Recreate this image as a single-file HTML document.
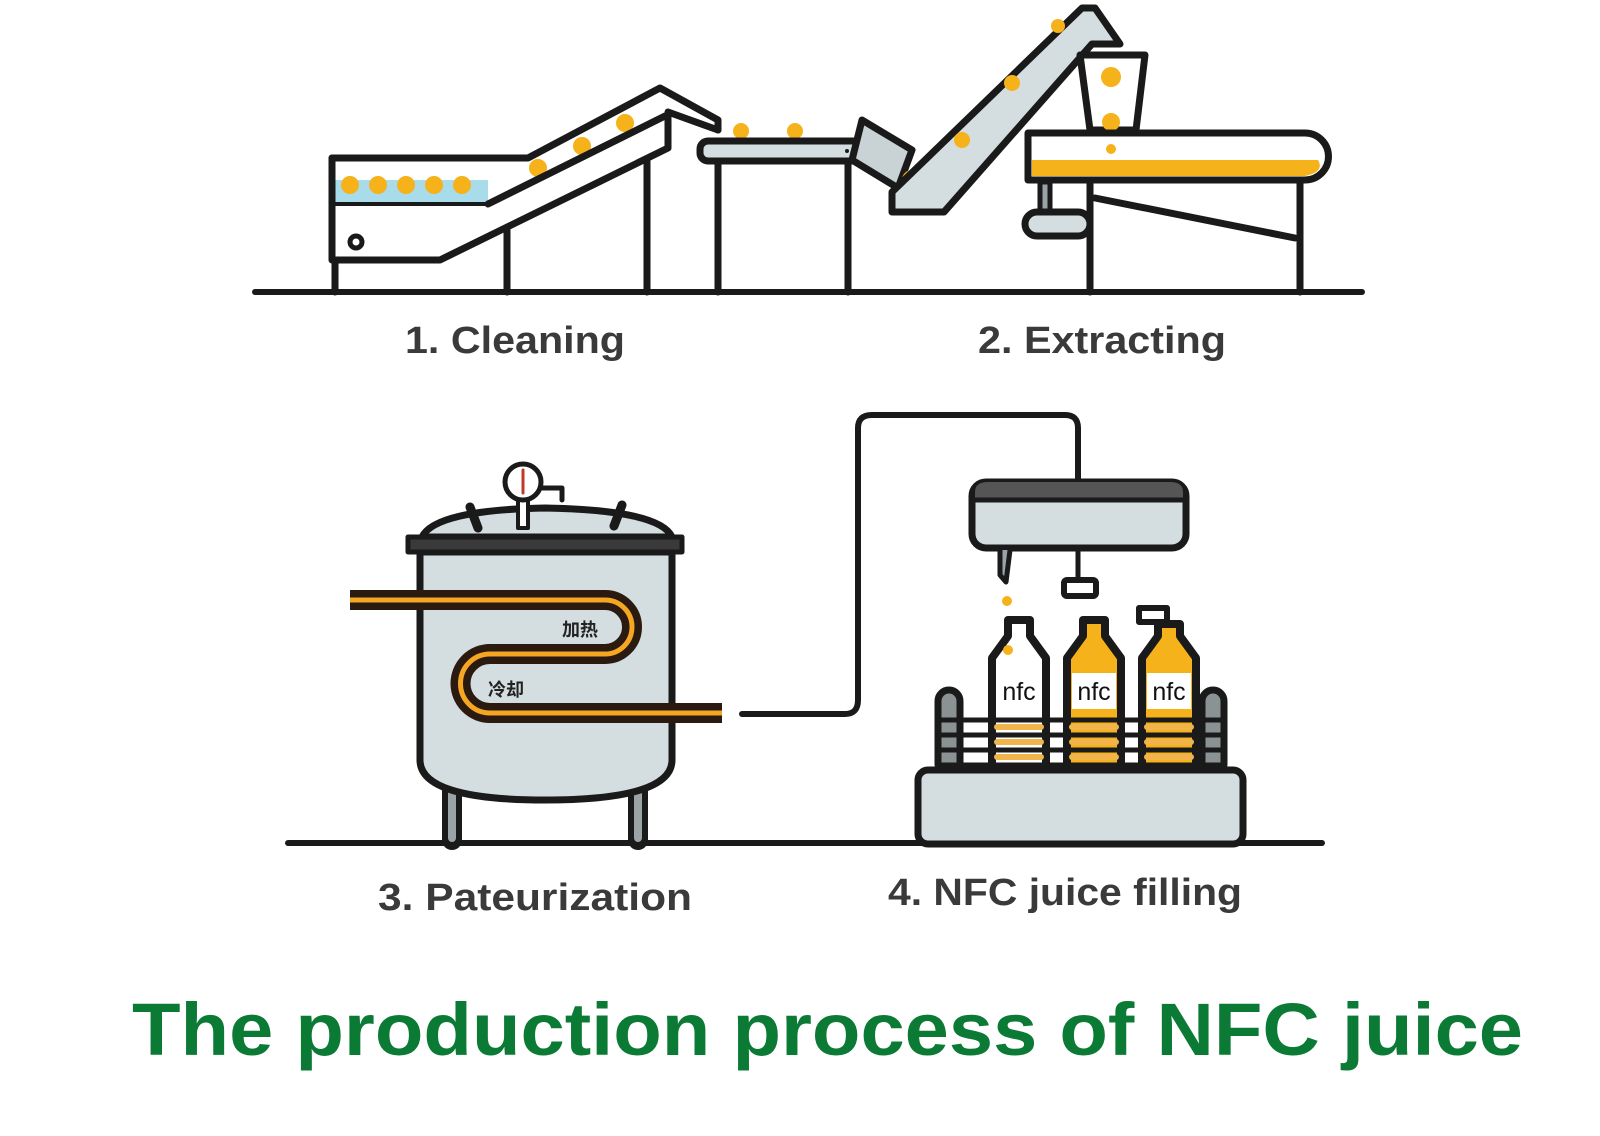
<!DOCTYPE html>
<html><head><meta charset="utf-8"><style>
html,body{margin:0;padding:0;background:#fff;}
svg{display:block;}
</style></head><body>
<svg width="1600" height="1136" viewBox="0 0 1600 1136" xmlns="http://www.w3.org/2000/svg">
<g stroke="#1a1a1a" stroke-width="7" stroke-linejoin="round" stroke-linecap="round">
<line x1="255" y1="292" x2="1362" y2="292" stroke-width="6"/>
<line x1="288" y1="843" x2="1322" y2="843" stroke-width="6"/>

<line x1="335" y1="262" x2="335" y2="292"/>
<line x1="507" y1="230" x2="507" y2="292"/>
<line x1="647" y1="160" x2="647" y2="292"/>
<rect x="334" y="180" width="154" height="22" fill="#a9dcea" stroke="none"/>
<g fill="#f5b21a" stroke="none">
<circle cx="350" cy="185" r="9"/><circle cx="378" cy="185" r="9"/><circle cx="406" cy="185" r="9"/><circle cx="434" cy="185" r="9"/><circle cx="462" cy="185" r="9"/>
<circle cx="538" cy="168" r="9"/><circle cx="582" cy="146" r="9"/><circle cx="625" cy="123" r="9"/>
<circle cx="741" cy="131" r="8"/><circle cx="795" cy="131" r="8"/>
</g>
<path d="M332 158 L528 158 L660 88 L718 120 L718 130" fill="none"/>
<path d="M332 158 L332 260 L440 260 L668 148 L668 112 L718 130" fill="none"/>
<line x1="488" y1="204" x2="665" y2="116"/>
<line x1="334" y1="204" x2="488" y2="204" stroke-width="4"/>
<circle cx="356" cy="242" r="6" fill="none" stroke-width="5"/>

<line x1="718" y1="160" x2="718" y2="292"/>
<line x1="848" y1="160" x2="848" y2="292"/>
<rect x="700" y="141" width="165" height="20" rx="8" fill="#d4dde0"/>
<circle cx="847" cy="151" r="2" fill="#1a1a1a" stroke="none"/>
<path d="M862 120 L912 150 L898 188 L852 160 Z" fill="#c9d2d4"/>

<circle cx="912" cy="180" r="10" fill="#f5b21a" stroke="none"/>
<path d="M892 192 L892 212 L944 212 L1092 44 L1120 44 L1095 8 L1082 8 Z" fill="#d4dde0"/>
<g fill="#f5b21a" stroke="none"><circle cx="962" cy="140" r="8"/><circle cx="1012" cy="83" r="8"/><circle cx="1058" cy="26" r="7"/></g>

<line x1="1090" y1="182" x2="1090" y2="292"/>
<line x1="1300" y1="182" x2="1300" y2="292"/>
<line x1="1095" y1="198" x2="1295" y2="238"/>
<rect x="1040" y="182" width="10" height="35" fill="#9aa3a6" stroke-width="5"/>
<rect x="1025" y="212" width="65" height="24" rx="12" fill="#d4dde0"/>
<path d="M1080 55 L1145 55 L1136 130 L1090 130 Z" fill="#fff"/>
<g fill="#f5b21a" stroke="none"><circle cx="1111" cy="77" r="10"/><circle cx="1111" cy="122" r="9"/></g>
<path d="M1028 133 L1305 133 A23 23 0 0 1 1305 180 L1028 180 Z" fill="#fff"/>
<path d="M1032 160 L1318 160 Q1325 172 1305 176 L1032 176 Z" fill="#f5b21a" stroke="none"/>
<circle cx="1111" cy="149" r="5" fill="#f5b21a" stroke="none"/>

<line x1="452" y1="790" x2="452" y2="840" stroke="#1a1a1a" stroke-width="20"/>
<line x1="452" y1="790" x2="452" y2="838" stroke="#9aa3a6" stroke-width="8"/>
<line x1="638" y1="790" x2="638" y2="840" stroke="#1a1a1a" stroke-width="20"/>
<line x1="638" y1="790" x2="638" y2="838" stroke="#9aa3a6" stroke-width="8"/>
<path d="M420 552 L420 760 Q420 800 545 800 Q672 800 672 760 L672 552 Z" fill="#d4dde0"/>
<path d="M422 537 Q435 510 545 508 Q660 510 672 537 Z" fill="#d4dde0"/>
<rect x="408" y="537" width="274" height="15" fill="#3a3a3a" stroke-width="5"/>
<line x1="470" y1="507" x2="478" y2="528" stroke-width="9"/>
<line x1="622" y1="505" x2="614" y2="526" stroke-width="9"/>
<rect x="518" y="500" width="10" height="28" fill="#fff" stroke-width="4"/>
<path d="M540 488 L562 488 L562 500" fill="none" stroke-width="5"/>
<circle cx="523" cy="482" r="18" fill="#fff" stroke-width="5"/>
<line x1="523" y1="470" x2="523" y2="493" stroke="#c0392b" stroke-width="3"/>

<path d="M350 600 L605 600 A27 27 0 0 1 605 654 L490 654 A29.5 29.5 0 0 0 490 713 L722 713" fill="none" stroke="#2b1a10" stroke-width="20" stroke-linecap="butt"/>
<path d="M350 600 L605 600 A27 27 0 0 1 605 654 L490 654 A29.5 29.5 0 0 0 490 713 L722 713" fill="none" stroke="#f5a623" stroke-width="5" stroke-linecap="butt"/>

<path d="M742 714 L845 714 Q858 714 858 700 L858 428 Q858 415 872 415 L1065 415 Q1078 415 1078 428 L1078 482" fill="none" stroke-width="6"/>

<rect x="972" y="482" width="214" height="66" rx="14" fill="#d4dde0"/>
<path d="M975 500 L975 492 Q975 482 988 482 L1170 482 Q1183 482 1183 492 L1183 500 Z" fill="#555" stroke="none"/>
<line x1="975" y1="500" x2="1183" y2="500" stroke-width="5"/>
<path d="M1000 550 L1000 575 L1006 582 L1010 550" fill="#9aa3a6" stroke-width="5"/>
<line x1="1078" y1="550" x2="1078" y2="580" stroke-width="5"/>
<rect x="1064" y="580" width="32" height="16" rx="3" fill="#fff" stroke-width="6"/>
<circle cx="1007" cy="601" r="5" fill="#f5b21a" stroke="none"/>

<rect x="938" y="690" width="22" height="85" rx="11" fill="#8a9294"/>
<rect x="1202" y="690" width="22" height="85" rx="11" fill="#8a9294"/>

<path d="M992 775 L992 658 L1008 636 L1008 620 L1030 620 L1030 636 L1046 658 L1046 775 Z" fill="#fff" stroke-width="8"/>
<circle cx="1008" cy="650" r="5" fill="#f5b21a" stroke="none"/>
<path d="M1067 775 L1067 658 L1083 636 L1083 620 L1105 620 L1105 636 L1121 658 L1121 775 Z" fill="#f5b21a" stroke-width="8"/>
<rect x="1139" y="608" width="28" height="14" fill="#fff" stroke-width="6"/>
<path d="M1142 775 L1142 658 L1158 636 L1158 624 L1180 624 L1180 636 L1196 658 L1196 775 Z" fill="#f5b21a" stroke-width="8"/>
<g fill="#fff" stroke="none">
<rect x="997" y="673" width="44" height="36"/><rect x="1072" y="673" width="44" height="36"/><rect x="1147" y="673" width="44" height="36"/>
</g>
<g stroke="#1a1a1a" stroke-width="5">
<line x1="940" y1="720" x2="1222" y2="720"/>
<line x1="940" y1="735" x2="1222" y2="735"/>
<line x1="940" y1="750" x2="1222" y2="750"/>
<line x1="940" y1="765" x2="1222" y2="765"/>
</g>
<g stroke="#f0b44a" stroke-width="6">
<line x1="997" y1="727" x2="1041" y2="727"/><line x1="997" y1="742" x2="1041" y2="742"/><line x1="997" y1="757" x2="1041" y2="757"/>
<line x1="1072" y1="727" x2="1116" y2="727"/><line x1="1072" y1="742" x2="1116" y2="742"/><line x1="1072" y1="757" x2="1116" y2="757"/>
<line x1="1147" y1="727" x2="1191" y2="727"/><line x1="1147" y1="742" x2="1191" y2="742"/><line x1="1147" y1="757" x2="1191" y2="757"/>
</g>
<rect x="918" y="770" width="325" height="74" rx="10" fill="#d4dde0"/>
</g>

<g font-family="'Liberation Sans', 'Noto Sans CJK SC', sans-serif" font-size="18" fill="#222" font-weight="bold">
<text x="562" y="636">加热</text>
<text x="488" y="696">冷却</text>
</g>
<g font-family="'Liberation Sans', sans-serif" font-size="25" fill="#111" text-anchor="middle">
<text x="1019" y="700">nfc</text><text x="1094" y="700">nfc</text><text x="1169" y="700">nfc</text>
</g>
<g font-family="'Liberation Sans', 'DejaVu Sans', sans-serif" font-size="38" fill="#3a3a3a" font-weight="bold">
<text x="405" y="353" textLength="220" lengthAdjust="spacingAndGlyphs">1. Cleaning</text>
<text x="978" y="353" textLength="248" lengthAdjust="spacingAndGlyphs">2. Extracting</text>
<text x="378" y="910" textLength="314" lengthAdjust="spacingAndGlyphs">3. Pateurization</text>
<text x="888" y="905" textLength="354" lengthAdjust="spacingAndGlyphs">4. NFC juice filling</text>
</g>
<text x="132" y="1055" font-family="'Liberation Sans', sans-serif" font-weight="bold" font-size="74" fill="#0b7a34" textLength="1391" lengthAdjust="spacingAndGlyphs">The production process of NFC juice</text>
</svg>
</body></html>
